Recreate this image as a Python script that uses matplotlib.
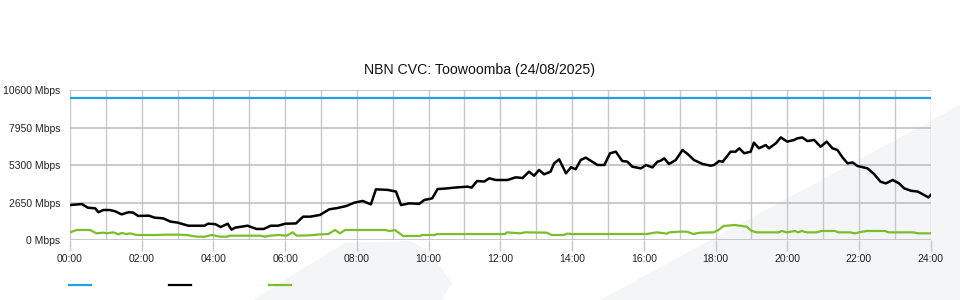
import matplotlib
matplotlib.use("Agg")
import matplotlib.pyplot as plt
from matplotlib.lines import Line2D
from matplotlib.patches import Polygon

plt.rcParams['font.family'] = ['Liberation Sans', 'DejaVu Sans']

# chart data (hours of the day, Mbps)
title = "NBN CVC: Toowoomba (24/08/2025)"
capacity = 10000

black_t = [0.0, 0.33, 0.5, 0.7, 0.79, 0.93, 1.1, 1.25, 1.44, 1.63, 1.76, 1.9, 2.2, 2.36,
           2.6, 2.8, 3.0, 3.3, 3.75, 3.85, 4.05, 4.2, 4.4, 4.5, 4.6, 4.95, 5.2, 5.4,
           5.6, 5.8, 6.0, 6.3, 6.5, 6.7, 6.97, 7.23, 7.46, 7.7, 7.93, 8.16, 8.39, 8.53,
           8.86, 9.09, 9.23, 9.46, 9.74, 9.88, 10.1, 10.25, 10.48, 10.8, 11.09, 11.2,
           11.35, 11.55, 11.69, 11.87, 12.2, 12.43, 12.62, 12.8, 12.94, 13.08, 13.22,
           13.4, 13.5, 13.64, 13.83, 13.97, 14.1, 14.24, 14.38, 14.52, 14.71, 14.9,
           15.06, 15.22, 15.4, 15.54, 15.68, 15.92, 16.06, 16.24, 16.38, 16.47, 16.57,
           16.7, 16.89, 17.08, 17.22, 17.4, 17.64, 17.87, 17.96, 18.1, 18.2, 18.42,
           18.56, 18.66, 18.8, 18.98, 19.07, 19.21, 19.4, 19.49, 19.68, 19.82, 20.0,
           20.19, 20.28, 20.42, 20.56, 20.75, 20.93, 21.1, 21.26, 21.4, 21.54, 21.68,
           21.82, 21.96, 22.24, 22.42, 22.6, 22.75, 22.94, 23.12, 23.26, 23.45, 23.64,
           23.78, 23.94, 24.0]
black_v = [2470, 2540, 2280, 2240, 1960, 2120, 2120, 2040, 1810, 1960, 1940, 1700, 1720, 1580,
           1530, 1300, 1230, 1010, 1010, 1150, 1120, 920, 1150, 730, 870, 1010, 780, 780,
           1010, 1010, 1150, 1170, 1650, 1650, 1770, 2170, 2260, 2400, 2640, 2760, 2520, 3580,
           3540, 3420, 2470, 2590, 2560, 2830, 2940, 3600, 3640, 3720, 3770, 3700,
           4170, 4130, 4360, 4240, 4240, 4430, 4380, 4830, 4540, 4950, 4640,
           4830, 5420, 5700, 4710, 5140, 5000, 5650, 5820, 5600, 5300, 5300,
           6130, 6240, 5580, 5540, 5180, 5060, 5300, 5130, 5530, 5600, 5770,
           5370, 5650, 6360, 6080, 5650, 5370, 5250, 5300, 5580, 5530, 6240,
           6240, 6480, 6130, 6240, 6880, 6480, 6710, 6480, 6830, 7250, 6950,
           7070, 7180, 7250, 6990, 7070, 6590, 6950, 6480, 6360, 5840, 5420,
           5480, 5230, 5060, 4660, 4120, 4000, 4240, 4000, 3650, 3480, 3420,
           3230, 3010, 3180]

green_t = [0.0, 0.19, 0.56, 0.74, 0.93, 1.02, 1.21, 1.35, 1.44, 1.58, 1.67, 1.86, 2.42, 2.65,
           3.02, 3.25, 3.53, 3.76, 3.95, 4.18, 4.37, 4.46, 5.3, 5.44, 5.58, 5.81, 6.04,
           6.21, 6.32, 6.69, 6.97, 7.2, 7.39, 7.53, 7.67, 8.78, 8.92, 9.06, 9.29, 9.76,
           9.81, 10.18, 10.22, 12.13, 12.18, 12.55, 12.69, 13.29, 13.43, 13.76, 13.87,
           13.99, 16.08, 16.36, 16.64, 16.72, 17.0, 17.2, 17.38, 17.57, 17.94, 18.08,
           18.22, 18.54, 18.87, 19.01, 19.15, 19.75, 19.85, 19.99, 20.22, 20.3, 20.4,
           20.55, 20.82, 20.96, 21.33, 21.43, 21.75, 21.89, 22.03, 22.22, 22.73, 22.82,
           23.52, 23.66, 24.0]
green_v = [540, 707, 707, 470, 520, 470, 540, 400, 495, 420, 470, 353, 353, 377,
           377, 353, 235, 235, 353, 235, 235, 306, 306, 235, 306, 353, 306,
           540, 306, 330, 400, 420, 707, 470, 707, 707, 636, 707, 283, 283,
           353, 353, 420, 420, 540, 470, 540, 520, 353, 353, 450,
           424, 424, 540, 450, 540, 590, 590, 424, 520, 540, 700,
           990, 1060, 940, 636, 540, 540, 636, 540, 636, 540, 636,
           540, 540, 636, 636, 540, 540, 470, 560, 636, 636, 540,
           540, 470, 470]

y_ticks = [0, 2650, 5300, 7950, 10600]
y_labels = [f"{v} Mbps" for v in y_ticks]
x_ticks = list(range(0, 25, 2))
x_labels = [f"{h:02d}:00" for h in x_ticks]

W, H = 960, 300
fig = plt.figure(figsize=(9.6, 3.0), dpi=100)

# faint background watermark, behind everything
def px(points):
    return [(x / W, 1 - y / H) for x, y in points]

wm = "#f4f5f7"
fig.patches.append(Polygon(px([(253, 300), (317, 260), (345, 243), (410, 241), (428, 250),
                               (452, 283), (442, 300)]),
                           closed=True, transform=fig.transFigure, fc=wm, ec="none", zorder=-5))
fig.patches.append(Polygon(px([(600, 300), (960, 105), (960, 300)]),
                           closed=True, transform=fig.transFigure, fc=wm, ec="none", zorder=-5))

ax = fig.add_axes([70 / W, 1 - 240 / H, 860.7 / W, 150 / H])
ax.set_zorder(1)
ax.patch.set_alpha(0)

ax.plot([0, 24], [capacity, capacity], color="#1fa0e0", lw=1.6, zorder=3)
ax.plot(black_t, black_v, color="black", lw=1.8, zorder=4)
ax.plot(green_t, green_v, color="#7cbd2a", lw=1.6, zorder=3)

ax.set_xlim(0, 24)
ax.set_ylim(0, 10600)
ax.set_xticks(x_ticks)
ax.set_xticklabels(x_labels)
ax.set_xticks(range(0, 25), minor=True)
ax.set_yticks(y_ticks)
ax.set_yticklabels(y_labels)

ax.grid(True, which="both", axis="x", color="#c8c8c8", lw=1.0)
ax.grid(True, axis="y", color="#c0c0c0", lw=1.2)
ax.tick_params(axis="x", which="major", length=8, color="#c8c8c8", width=1.0,
               labelsize=7.5, pad=2, labelcolor="#222222")
ax.tick_params(axis="x", which="minor", length=0)
ax.tick_params(axis="y", length=0, labelsize=7.5, pad=7, labelcolor="#222222")
for s in ax.spines.values():
    s.set_visible(False)

fig.text(0.5, 1 - 70 / H, title, ha="center", va="center", fontsize=10.2, color="#111111")

# legend swatches (labels are blank in the original)
for x0, c in [(69, "#1fa0e0"), (169, "black"), (269, "#7cbd2a")]:
    fig.add_artist(Line2D([x0 / W, (x0 + 22) / W], [1 - 285 / H, 1 - 285 / H],
                          transform=fig.transFigure, color=c, lw=1.6))

fig.savefig("out.png", dpi=100)
